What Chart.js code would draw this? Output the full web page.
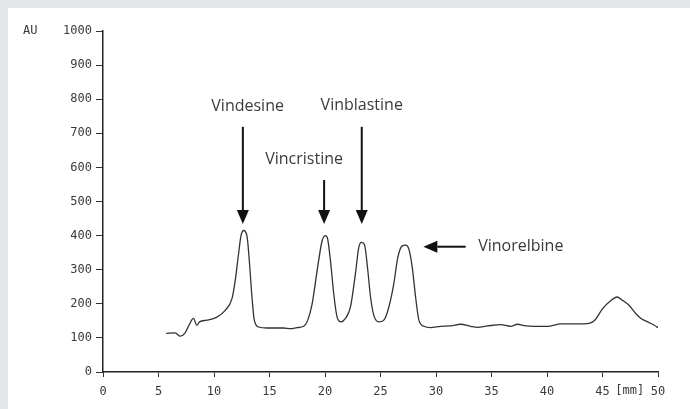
<!DOCTYPE html>
<html>
<head>
<meta charset="utf-8">
<script src="https://cdn.jsdelivr.net/npm/chart.js@4"></script>
<style>
  html, body { margin: 0; padding: 0; background: #e5e6e8; }
  #panel { position: absolute; left: 8px; top: 8px; width: 682px; height: 401px; background: #fff; }
</style>
</head>
<body>
<div id="panel"><canvas id="chart" width="682" height="401"></canvas></div>
<script>
// retention time (min) and detector response (AU)
const times = [5.69, 6.50, 6.95, 7.40, 7.79, 8.15, 8.46, 8.69, 9.36, 10.26, 11.01, 11.62, 11.91, 12.21, 12.43, 12.66, 12.97, 13.18, 13.42, 13.63, 14.02, 14.77, 16.27,
  16.88, 17.48, 18.08, 18.38, 18.84, 19.29, 19.74, 20.04, 20.24, 20.49, 20.79, 21.09, 21.45, 21.84, 22.29, 22.74, 23.04, 23.29, 23.56, 23.86, 24.10, 24.40, 24.85,
  25.30, 25.75, 26.20, 26.56, 26.96, 27.26, 27.55, 27.86, 28.16, 28.46, 28.91, 29.51, 30.42, 31.32, 32.22, 33.12, 33.73, 34.63, 35.83, 36.73, 37.34, 37.93,
  38.84, 40.05, 41.25, 42.45, 43.35, 44.25, 45.01, 45.76, 46.30, 46.81, 47.41, 48.01, 48.47, 49.07, 49.67, 50.00];
const response = [113, 115, 105, 115, 140, 157, 137, 147, 152, 161, 181, 215, 268, 346, 399, 415, 399, 327, 220, 152, 132, 129, 129,
  127, 130, 134, 147, 200, 297, 385, 400, 390, 327, 229, 161, 147, 157, 190, 288, 365, 380, 373, 297, 220, 166, 147,
  152, 190, 259, 336, 370, 372, 361, 307, 220, 152, 134, 130, 134, 135, 140, 134, 131, 135, 139, 134, 140, 136,
  134, 134, 141, 141, 141, 150, 186, 210, 220, 210, 195, 171, 157, 147, 137, 130];

const xTicks = [0, 5, 10, 15, 20, 25, 30, 35, 40, 45, 50];
const yTicks = [0, 100, 200, 300, 400, 500, 600, 700, 800, 900, 1000];

// peak labels (text centre) and arrows, in data units
const peakNames = ['Vindesine', 'Vincristine', 'Vinblastine', 'Vinorelbine'];
const labelX = [13.03, 18.12, 23.31, 33.8];
const labelY = [780, 624, 783, 369.5];
const labelAlign = ['center', 'center', 'center', 'left'];
// arrow: from (x0,y0) to tip (x1,y1)
const arrowX0 = [12.6, 19.92, 23.31, 32.67];
const arrowY0 = [719, 563, 719, 367.4];
const arrowX1 = [12.6, 19.92, 23.31, 28.86];
const arrowY1 = [434, 434, 434, 367.4];

const tickFont = { family: 'DejaVu Sans Mono', size: 12 };

const annotations = {
  id: 'annotations',
  afterDraw(chart) {
    const ctx = chart.ctx;
    const xs = chart.scales.x, ys = chart.scales.y;
    ctx.save();
    // axis unit labels
    ctx.fillStyle = '#3a3a3a';
    ctx.font = '12px "DejaVu Sans Mono"';
    ctx.textBaseline = 'middle';
    ctx.textAlign = 'left';
    ctx.fillText('AU', 15, ys.getPixelForValue(1000));
    ctx.textAlign = 'center';
    ctx.fillText('[mm]', xs.getPixelForValue(47.46), ys.bottom + 19);

    // arrows
    ctx.strokeStyle = '#111';
    ctx.fillStyle = '#111';
    ctx.lineWidth = 2;
    for (let i = 0; i < arrowX0.length; i++) {
      const x0 = xs.getPixelForValue(arrowX0[i]), y0 = ys.getPixelForValue(arrowY0[i]);
      const x1 = xs.getPixelForValue(arrowX1[i]), y1 = ys.getPixelForValue(arrowY1[i]);
      const ang = Math.atan2(y1 - y0, x1 - x0);
      const head = 14, half = 6;
      const bx = x1 - head * Math.cos(ang), by = y1 - head * Math.sin(ang);
      ctx.beginPath();
      ctx.moveTo(x0, y0);
      ctx.lineTo(bx, by);
      ctx.stroke();
      ctx.beginPath();
      ctx.moveTo(x1, y1);
      ctx.lineTo(bx + half * Math.sin(ang), by - half * Math.cos(ang));
      ctx.lineTo(bx - half * Math.sin(ang), by + half * Math.cos(ang));
      ctx.closePath();
      ctx.fill();
    }

    // peak names
    ctx.fillStyle = '#3a3a3a';
    ctx.font = '16px "Open Sans"';
    ctx.textBaseline = 'middle';
    for (let i = 0; i < peakNames.length; i++) {
      ctx.textAlign = labelAlign[i];
      ctx.fillText(peakNames[i], xs.getPixelForValue(labelX[i]), ys.getPixelForValue(labelY[i]));
    }
    ctx.restore();
  }
};

new Chart(document.getElementById('chart').getContext('2d'), {
  type: 'line',
  data: {
    datasets: [{
      data: times.map((t, i) => ({ x: t, y: response[i] })),
      borderColor: '#333',
      borderWidth: 1.3,
      pointRadius: 0,
      fill: false,
      cubicInterpolationMode: 'monotone'
    }]
  },
  options: {
    responsive: false,
    animation: false,
    devicePixelRatio: 1,
    layout: { padding: { top: 23, right: 32, left: 0, bottom: 0 } },
    plugins: { legend: { display: false }, tooltip: { enabled: false } },
    scales: {
      x: {
        type: 'linear',
        min: 0,
        max: 50,
        afterBuildTicks: s => { s.ticks = xTicks.map(v => ({ value: v })); },
        afterFit: s => { s.height = 37; },
        border: { display: true, color: '#222', width: 1.5 },
        grid: { drawOnChartArea: false, drawTicks: true, tickLength: 5, tickColor: '#333', color: '#333' },
        ticks: { color: '#3a3a3a', font: tickFont, padding: 8, maxRotation: 0, autoSkip: false, callback: v => String(v) }
      },
      y: {
        min: 0,
        max: 1000,
        afterBuildTicks: s => { s.ticks = yTicks.map(v => ({ value: v })); },
        afterFit: s => { s.width = 95; },
        border: { display: true, color: '#222', width: 1.5 },
        grid: { drawOnChartArea: false, drawTicks: true, tickLength: 7, tickColor: '#333', color: '#333' },
        ticks: { color: '#3a3a3a', font: tickFont, padding: 4, autoSkip: false, callback: v => String(v) }
      }
    }
  },
  plugins: [annotations]
});
</script>
</body>
</html>
